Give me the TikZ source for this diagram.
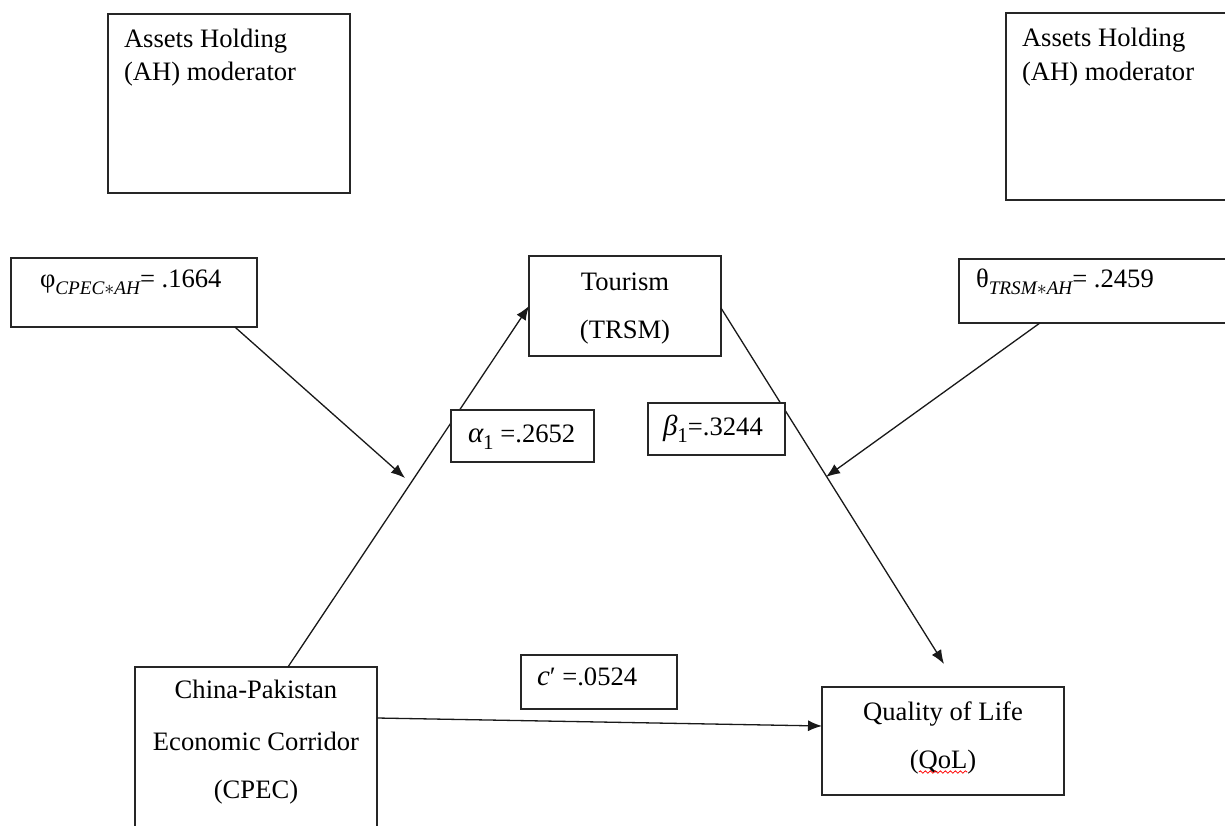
\documentclass[tikz,border=0pt]{standalone}
\usepackage{fontspec}
\setmainfont{Liberation Serif}
\usetikzlibrary{arrows.meta,calc,decorations.pathmorphing}
\newcommand{\mysub}[1]{\raisebox{-0.28em}{\fontsize{9.6}{10}\selectfont\itshape #1}}
\newcommand{\mynum}[1]{\raisebox{-0.28em}{\fontsize{10.5}{10}\selectfont #1}}
\begin{document}
\begin{tikzpicture}[x=0.5pt,y=-0.5pt,
  box/.style={draw=black!85, line width=0.9pt, fill=white, inner sep=0pt, outer sep=0pt},
  txt/.style={font=\fontsize{13.3}{16}\selectfont, inner sep=0pt, outer sep=0pt, anchor=base west},
  ctxt/.style={font=\fontsize{13.3}{16}\selectfont, inner sep=0pt, outer sep=0pt, anchor=base},
  conn/.style={line width=0.65pt, draw=black!90, -{Latex[length=7pt,width=5.5pt]}}]
\clip (0,0) rectangle (1225,825);
\fill[white] (0,0) rectangle (1225,825);

% main boxes
\node[box, minimum width=121pt, minimum height=89.5pt] (ahL) at (229,103.5) {};
\node[box, minimum width=127pt, minimum height=93.5pt] (ahR) at (1133,106.5) {};
\node[box, minimum width=123pt, minimum height=34.5pt] (phi) at (134,292.5) {};
\node[box, minimum width=145.5pt, minimum height=32pt] (theta) at (1104.5,291) {};
\node[box, minimum width=96pt, minimum height=50pt] (tour) at (625,306) {};
\node[box, minimum width=121pt, minimum height=54pt] (qol) at (943,741) {};
\node[box, minimum width=121pt, minimum height=86.5pt] (cpec) at (256,753.5) {};

% connectors
\coordinate (qtip) at ($(qol.north)+(1,-23)$);
\coordinate (phiTip) at (405,478);
\coordinate (thetaTip) at (826,477);
\draw[conn] ($(cpec.north west)!0.632!(cpec.north east)$) -- (tour.west);
\draw[conn] ($(tour.north east)+(0,52)$) -- (qtip);
\draw[conn] ($(cpec.north east)+(0,51)$) -- ($(qol.north west)+(0,39)$);
\draw[conn] ($(phi.south west)!0.91!(phi.south east)$) -- (phiTip);
\draw[conn] ($(theta.south west)!0.278!(theta.south east)$) -- (thetaTip);

% coefficient boxes (drawn over the lines)
\node[box, minimum width=71.5pt, minimum height=26pt] (alpha) at (522.5,436) {};
\node[box, minimum width=68.5pt, minimum height=26pt] (beta) at (716.5,429) {};
\node[box, minimum width=78pt, minimum height=27pt] (cp) at (599,682) {};

% texts
\node[txt] (ahL1) at (124,47) {Assets Holding};
\node[txt] (ahL2) at (124,80) {(AH) moderator};
\node[txt] (ahR1) at (1022,46) {Assets Holding};
\node[txt] (ahR2) at (1022,80) {(AH) moderator};
\node[txt] (phiT) at (40,287) {φ\mysub{CPEC$\ast$AH}= .1664};
\node[txt] (thetaT) at (976,287) {θ\mysub{TRSM$\ast$AH}= .2459};
\node[ctxt] (tour1) at (625,290) {Tourism};
\node[ctxt] (tour2) at (625,338) {(TRSM)};
\node[txt] (alphaT) at (468,442) {{\fontsize{14.5}{16}\selectfont\itshape α}\mynum{1} =.2652};
\node[txt] (betaT) at (663,435) {{\fontsize{14.5}{16}\selectfont\itshape β}\mynum{1}=.3244};
\node[txt] (cpT) at (537,685) {{\fontsize{14.5}{16}\selectfont\itshape c}′ =.0524};
\node[ctxt] (qol1) at (943,720) {Quality of Life};
\node[ctxt] (qol2) at (943,768) {(QoL)};
\node[ctxt] (cpec1) at (256,698) {China-Pakistan};
\node[ctxt] (cpec2) at (256,750) {Economic Corridor};
\node[ctxt] (cpec3) at (256,798) {(CPEC)};

% spell-check underline
\draw[red, line width=0.4pt, decorate, decoration={snake, amplitude=0.6pt, segment length=2.5pt}]
  ($(qol2.base west)+(9,4)$) -- ($(qol2.base east)+(-9,4)$);
\end{tikzpicture}
\end{document}
